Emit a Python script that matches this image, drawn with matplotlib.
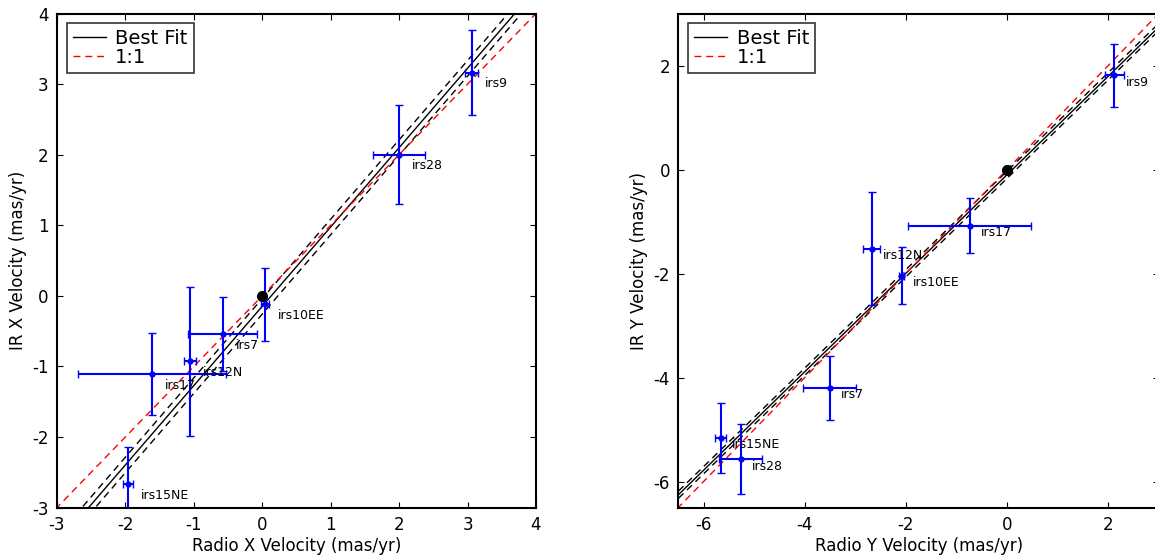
import numpy as np
import matplotlib
matplotlib.use("Agg")
import matplotlib.pyplot as plt

plt.rcParams['axes.unicode_minus'] = False
plt.rcParams['font.family'] = 'DejaVu Sans'
plt.rcParams['xtick.direction'] = 'in'
plt.rcParams['ytick.direction'] = 'in'
plt.rcParams['xtick.top'] = True
plt.rcParams['ytick.right'] = True
plt.rcParams['xtick.major.size'] = 4
plt.rcParams['ytick.major.size'] = 4
plt.rcParams['xtick.major.pad'] = 6
plt.rcParams['ytick.major.pad'] = 6

# Star names and proper motions (mas/yr)
x_names = ['irs9', 'irs28', 'irs10EE', 'irs7', 'irs12N', 'irs17', 'irs15NE']
radio_x = [3.06, 2.00, 0.04, -0.58, -1.06, -1.61, -1.96]
radio_x_err = [0.09, 0.38, 0.065, 0.50, 0.09, 1.08, 0.07]
ir_x = [3.16, 2.00, -0.12, -0.54, -0.93, -1.11, -2.67]
ir_x_err = [0.60, 0.70, 0.52, 0.52, 1.06, 0.58, 0.53]

y_names = ['irs9', 'irs17', 'irs12N', 'irs10EE', 'irs7', 'irs15NE', 'irs28']
radio_y = [2.12, -0.74, -2.68, -2.08, -3.51, -5.66, -5.27]
radio_y_err = [0.19, 1.21, 0.17, 0.05, 0.53, 0.11, 0.43]
ir_y = [1.81, -1.08, -1.52, -2.04, -4.20, -5.16, -5.57]
ir_y_err = [0.60, 0.53, 1.08, 0.55, 0.61, 0.67, 0.67]

# Linear fits: slope, intercept, intercept uncertainty
fit_x = (1.124, -0.148, 0.11)
fit_y = (0.947, -0.10, 0.07)

fig = plt.figure(figsize=(11.55, 5.59), dpi=100)
ax1 = fig.add_axes([0.04935, 0.0921, 0.4147, 0.8837])
ax2 = fig.add_axes([0.5873, 0.0921, 0.4160, 0.8837])


def draw_panel(ax, names, rx, rxe, iy, iye, fit, lims, step, label_off, axis):
    lo, hi = lims
    xx = np.array([lo - 1, hi + 1])
    m, b, db = fit
    ax.plot(xx, m * xx + b, 'k-', lw=1.0, label='Best Fit')
    ax.plot(xx, m * xx + b + db, 'k--', lw=1.0, dashes=(5, 3.5))
    ax.plot(xx, m * xx + b - db, 'k--', lw=1.0, dashes=(5, 3.5))
    ax.plot(xx, xx, 'r--', lw=1.0, dashes=(5, 3.5), label='1:1')
    ax.errorbar(rx, iy, xerr=rxe, yerr=iye, fmt='o', color='b', ms=3.5,
                mec='b', ecolor='b', elinewidth=1.5, capsize=3, capthick=1.0)
    ax.plot([0], [0], 'ko', ms=7)
    for name, px, py in zip(names, rx, iy):
        ax.annotate(name, (px, py), xytext=label_off, textcoords='offset points',
                    ha='left', va='center', fontsize=9)
    ax.set_xlim(lims)
    ax.set_ylim(lims)
    ax.set_xticks(np.arange(np.ceil(lo / step) * step, hi + 0.01, step))
    ax.set_yticks(np.arange(np.ceil(lo / step) * step, hi + 0.01, step))
    ax.tick_params(labelsize=12)
    for sp in ax.spines.values():
        sp.set_linewidth(1.5)
    ax.set_xlabel('Radio %s Velocity (mas/yr)' % axis, fontsize=12, labelpad=2)
    ax.set_ylabel('IR %s Velocity (mas/yr)' % axis, fontsize=12)
    leg = ax.legend(loc='upper left', fontsize=14, handlelength=1.7,
                    fancybox=False, borderpad=0.3, labelspacing=0.0,
                    handletextpad=0.5, borderaxespad=0.5)
    leg.get_frame().set_edgecolor('k')
    leg.get_frame().set_linewidth(1.2)


draw_panel(ax1, x_names, radio_x, radio_x_err, ir_x, ir_x_err, fit_x,
           (-3, 4), 1, (9.5, -8), 'X')
draw_panel(ax2, y_names, radio_y, radio_y_err, ir_y, ir_y_err, fit_y,
           (-6.5, 3), 2, (8, -5), 'Y')

plt.savefig('out.png', dpi=100)
